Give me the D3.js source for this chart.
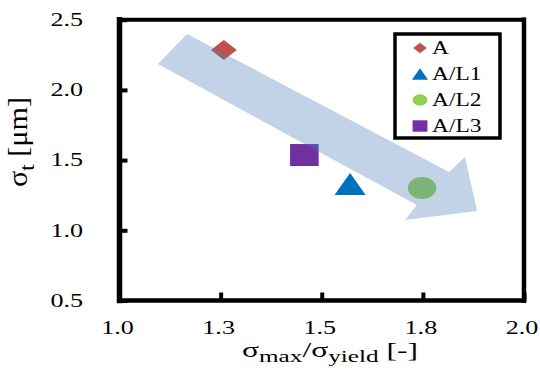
<!DOCTYPE html>
<html>
<head>
<meta charset="utf-8">
<script src="https://cdn.jsdelivr.net/npm/d3@7"></script>
<style>
  html, body { margin: 0; padding: 0; background: #fff; }
</style>
</head>
<body>
<div id="chart"></div>
<script>
/* ── data ─────────────────────────────────────────────────────── */
const seriesNames = ["A", "A/L1", "A/L2", "A/L3"];
const xValues     = [1.258, 1.570, 1.748, 1.457];   // σmax/σyield
const yValues     = [2.284, 1.330, 1.301, 1.536];   // σt [μm]

const xTicks      = [1.0, 1.25, 1.5, 1.75, 2.0];
const xTickLabels = ["1.0", "1.3", "1.5", "1.8", "2.0"];
const yTicks      = [0.5, 1.0, 1.5, 2.0, 2.5];
const yTickLabels = ["0.5", "1.0", "1.5", "2.0", "2.5"];

// trend arrow outline, in data units
const arrowX = [1.167, 1.815, 1.854, 1.884, 1.706, 1.735, 1.095];
const arrowY = [2.398, 1.415, 1.522, 1.137, 1.073, 1.180, 2.184];

/* ── styles ───────────────────────────────────────────────────── */
const markerType  = { "A": "diamond", "A/L1": "triangle", "A/L2": "circle", "A/L3": "square" };
const markerColor = { "A": "#C0504D", "A/L1": "#0070C0", "A/L2": "#92D050", "A/L3": "#7030A0" };
const STRETCH = 1.3;   // picture is stretched sideways

// pick the first Times-like face that is really installed
function pickFont(list) {
  const ctx = document.createElement("canvas").getContext("2d");
  const probe = "mmmWWWiiil1.0σμ";
  ctx.font = "40px monospace";
  const base = ctx.measureText(probe).width;
  for (const f of list) {
    ctx.font = `40px "${f}", monospace`;
    if (Math.abs(ctx.measureText(probe).width - base) > 0.5) return `"${f}", serif`;
  }
  return "serif";
}
const FONT = pickFont(["Liberation Serif", "Times New Roman", "Tinos", "Nimbus Roman", "DejaVu Serif"]);

const W = 540, H = 380;
const svg = d3.select("#chart").append("svg")
  .attr("width", W).attr("height", H)
  .attr("font-family", FONT);

const x = d3.scaleLinear().domain([1, 2]).range([119.5, 524]);
const y = d3.scaleLinear().domain([0.5, 2.5]).range([300.5, 19.7]);

function markerPath(type, s) {
  if (type === "diamond")  return `M0,${-s}L${s},0L0,${s}L${-s},0Z`;
  if (type === "triangle") return `M0,${-s}L${s * 1.09},${s}L${-s * 1.09},${s}Z`;
  if (type === "square")   return `M${-s},${-s}h${2 * s}v${2 * s}h${-2 * s}Z`;
  return `M${-s},0a${s},${s} 0 1,0 ${2 * s},0a${s},${s} 0 1,0 ${-2 * s},0Z`;
}
const markerSize = { diamond: 10, triangle: 11, square: 11, circle: 11 };

/* ── points ───────────────────────────────────────────────────── */
svg.append("g").selectAll("path").data(seriesNames).join("path")
  .attr("d", d => markerPath(markerType[d], markerSize[markerType[d]]))
  .attr("fill", d => markerColor[d])
  .attr("transform", (d, i) => `translate(${x(xValues[i])},${y(yValues[i])}) scale(${STRETCH},1)`);

/* ── translucent arrow on top ─────────────────────────────────── */
const arrowLine = d3.line().x(i => x(arrowX[i])).y(i => y(arrowY[i])).curve(d3.curveLinearClosed);
svg.append("path")
  .attr("d", arrowLine(d3.range(arrowX.length)))
  .attr("fill", "#4F81BD")
  .attr("fill-opacity", 0.35);

/* ── axes ─────────────────────────────────────────────────────── */
const xAxis = svg.append("g").attr("transform", `translate(0,${y(0.5)})`)
  .call(d3.axisBottom(x).tickValues(xTicks).tickFormat((d, i) => xTickLabels[i]).tickSize(-8));
const yAxis = svg.append("g").attr("transform", `translate(${x(1)},0)`)
  .call(d3.axisLeft(y).tickValues(yTicks).tickFormat((d, i) => yTickLabels[i]).tickSize(-8));

[xAxis, yAxis].forEach(a => {
  a.attr("font-family", FONT).attr("font-size", 18);
  a.select(".domain").remove();
  a.selectAll(".tick line").attr("stroke", "#000").attr("stroke-width", 4);
  a.selectAll("text").attr("fill", "#000");
});
xAxis.selectAll("text").attr("y", 0).attr("dy", 0)
  .attr("transform", "translate(-2.5,33.5) scale(1.45,1)");
yAxis.selectAll("text").attr("x", 0).attr("dy", "0.32em")
  .attr("transform", "translate(-36.5,0) scale(1.45,1)");

// frame
const fr = svg.append("g").attr("stroke", "#000").attr("stroke-linecap", "square");
fr.append("line").attr("x1", x(1)).attr("x2", x(1)).attr("y1", y(0.5)).attr("y2", y(2.5)).attr("stroke-width", 5.5);
fr.append("line").attr("x1", x(2)).attr("x2", x(2)).attr("y1", y(0.5)).attr("y2", y(2.5)).attr("stroke-width", 4.5);
fr.append("line").attr("x1", x(1)).attr("x2", x(2)).attr("y1", y(0.5)).attr("y2", y(0.5)).attr("stroke-width", 4.5);
fr.append("line").attr("x1", x(1)).attr("x2", x(2)).attr("y1", y(2.5)).attr("y2", y(2.5)).attr("stroke-width", 4);

/* ── axis titles ──────────────────────────────────────────────── */
const xt = svg.append("text")
  .attr("x", 330).attr("y", 357).attr("text-anchor", "middle")
  .attr("font-size", 20).attr("textLength", 176).attr("lengthAdjust", "spacingAndGlyphs");
xt.append("tspan").text("σ");
xt.append("tspan").attr("font-size", 16).attr("dy", 5).text("max");
xt.append("tspan").attr("dy", -5).text("/σ");
xt.append("tspan").attr("font-size", 16).attr("dy", 5).text("yield");
xt.append("tspan").attr("dy", -5).text(" [-]");

const yt = svg.append("text")
  .attr("transform", `translate(27,142) scale(${STRETCH},1) rotate(-90)`)
  .attr("text-anchor", "middle")
  .attr("font-size", 21).attr("textLength", 90).attr("lengthAdjust", "spacingAndGlyphs");
yt.append("tspan").text("σ");
yt.append("tspan").attr("font-size", 16).attr("dy", 5).text("t");
yt.append("tspan").attr("dy", -5).text(" [μm]");

/* ── legend ───────────────────────────────────────────────────── */
const lg = svg.append("g");
lg.append("rect").attr("x", 395).attr("y", 34).attr("width", 105).attr("height", 104)
  .attr("fill", "#fff").attr("stroke", "#000").attr("stroke-width", 3.5);
const rows = lg.selectAll("g.row").data(seriesNames).join("g").attr("class", "row")
  .attr("transform", (d, i) => `translate(420,${48 + i * 26})`);
rows.append("path")
  .attr("d", d => markerPath(markerType[d], markerType[d] === "diamond" ? 5.2 : 5.7))
  .attr("fill", d => markerColor[d])
  .attr("transform", `scale(${STRETCH},1)`);
rows.append("text")
  .attr("transform", `translate(12,6) scale(${STRETCH},1)`)
  .attr("font-size", 18)
  .text(d => d);
</script>
</body>
</html>
